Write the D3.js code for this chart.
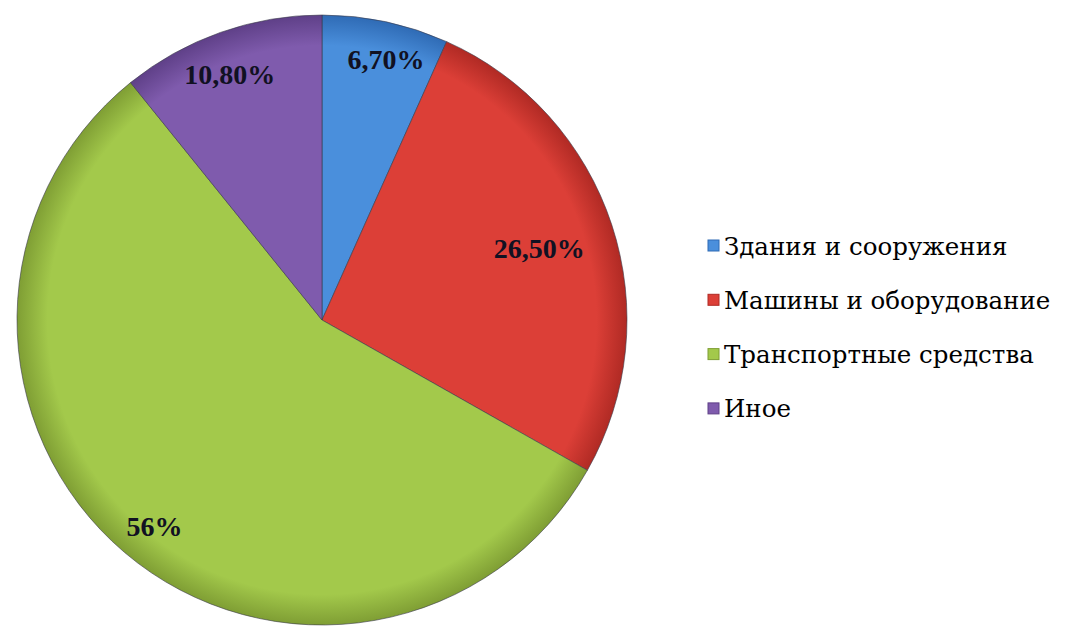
<!DOCTYPE html>
<html>
<head>
<meta charset="utf-8">
<script src="https://cdn.jsdelivr.net/npm/d3@7"></script>
<style>
  body { margin: 0; background: #fff; }
  text { font-family: "Liberation Serif", "DejaVu Serif", serif; }
  text.leg { font-family: "DejaVu Serif", serif; }
</style>
</head>
<body>
<svg id="chart" width="1078" height="626"></svg>
<script>
const categories = ["Здания и сооружения", "Машины и оборудование", "Транспортные средства", "Иное"];
const values = [6.7, 26.5, 56, 10.8];
const labels = ["6,70%", "26,50%", "56%", "10,80%"];
const colors = ["#4a8fdc", "#dc3f37", "#a3c94b", "#7f5bad"];
const edgeColors = ["#2f6bb5", "#b02a24", "#7f9e34", "#5f4088"];

const svg = d3.select("#chart");
const cx = 322, cy = 320, radius = 305;

const defs = svg.append("defs");
colors.forEach((c, i) => {
  const g = defs.append("radialGradient")
    .attr("id", "grad" + i)
    .attr("gradientUnits", "userSpaceOnUse")
    .attr("cx", 0).attr("cy", 0).attr("r", radius);
  g.append("stop").attr("offset", "0%").attr("stop-color", c);
  g.append("stop").attr("offset", "90%").attr("stop-color", c);
  g.append("stop").attr("offset", "100%").attr("stop-color", edgeColors[i]);
});

const pie = d3.pie().sort(null).value(d => d);
const arcs = pie(values);
const arc = d3.arc().innerRadius(0).outerRadius(radius);

const plot = svg.append("g").attr("transform", `translate(${cx},${cy})`);

plot.selectAll("path")
  .data(arcs)
  .enter()
  .append("path")
  .attr("d", arc)
  .attr("fill", (d, i) => `url(#grad${i})`)
  .attr("stroke", "#3a3a4a")
  .attr("stroke-opacity", 0.6)
  .attr("stroke-width", 1);

// label positions (fraction of radius, angle shift) tuned to the picture
const labelRadius = [0.88, 0.75, 0.87, 0.86];
const labelShift = [0.03, 0, -0.02, -0.02];
plot.selectAll("text.lbl")
  .data(arcs)
  .enter()
  .append("text")
  .attr("class", "lbl")
  .attr("transform", (d, i) => {
    const a = (d.startAngle + d.endAngle) / 2 + labelShift[i];
    const r = radius * labelRadius[i];
    return `translate(${Math.sin(a) * r},${-Math.cos(a) * r})`;
  })
  .attr("text-anchor", "middle")
  .attr("dy", "0.35em")
  .style("font-size", "28px")
  .style("font-weight", "bold")
  .attr("fill", "#111122")
  .text((d, i) => labels[i]);

const legend = svg.append("g").attr("transform", "translate(708,246)");
const row = legend.selectAll("g")
  .data(categories)
  .enter()
  .append("g")
  .attr("transform", (d, i) => `translate(0,${i * 54.3})`);

row.append("rect")
  .attr("x", 0).attr("y", -6)
  .attr("width", 11).attr("height", 11)
  .attr("fill", (d, i) => colors[i])
  .attr("stroke", (d, i) => edgeColors[i])
  .attr("stroke-width", 1);

row.append("text")
  .attr("class", "leg")
  .attr("x", 16)
  .attr("dy", "0.35em")
  .style("font-size", "24.5px")
  .attr("fill", "#000")
  .text(d => d);
</script>
</body>
</html>
